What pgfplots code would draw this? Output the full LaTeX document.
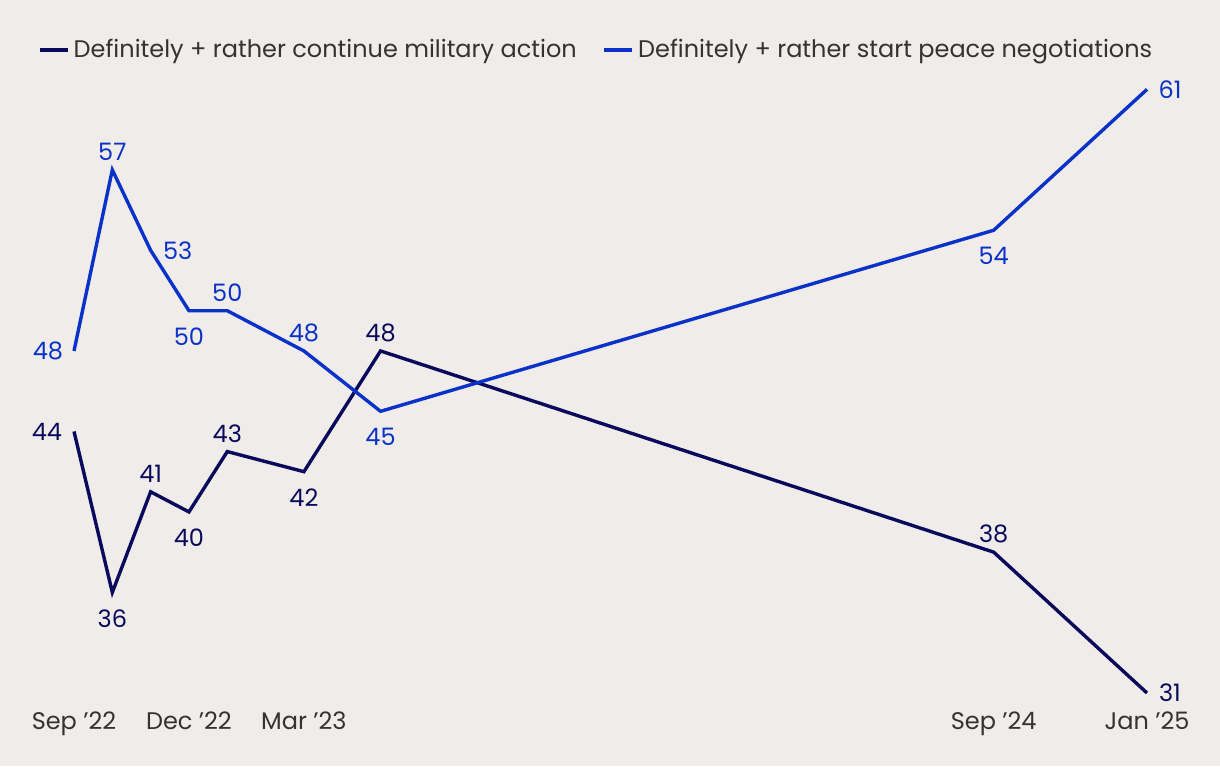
\documentclass[border=0pt]{standalone}
\usepackage{pgfplots}
\pgfplotsset{compat=1.18}
\usepackage{fontspec}
\setmainfont{Poppins}
\definecolor{bg}{HTML}{EFECE9}
\definecolor{navy}{HTML}{0A0A5C}
\definecolor{blu}{HTML}{0B32C8}
\definecolor{txt}{HTML}{333333}
\newcommand{\lf}{\fontsize{12}{14}\selectfont}
\begin{document}
\begin{tikzpicture}
\fill[bg] (0,0) rectangle (610pt,383pt);
\begin{axis}[
  at={(37pt,36.5pt)}, anchor=south west,
  scale only axis, width=536.5pt, height=301.8pt,
  xmin=0, xmax=28, ymin=31, ymax=61,
  axis line style={draw=none}, ytick=\empty,
  xtick={0,3,6,24,28},
  xticklabels={Sep ’22, Dec ’22, Mar ’23, Sep ’24, Jan ’25},
  major tick length=0pt, clip=false,
  xticklabel style={font=\lf, text=txt, anchor=base, yshift=-18pt},
  legend columns=2,
  legend style={draw=none, fill=none, font=\lf, text=txt,
    at={(axis description cs:-0.0336,1.0653)}, anchor=west,
    inner xsep=0pt,
    /tikz/every even column/.append style={column sep=11pt}},
  legend image code/.code={\draw[#1, line width=1.7pt] (0,0) -- (14pt,0);},
]
\addplot[navy, line width=1.7pt] coordinates {(0,44) (1,36) (2,41) (3,40) (4,43) (6,42) (8,48) (24,38) (28,31)};
\addlegendentry{Definitely + rather continue military action}
\addplot[blu, line width=1.7pt] coordinates {(0,48) (1,57) (2,53) (3,50) (4,50) (6,48) (8,45) (24,54) (28,61)};
\addlegendentry{Definitely + rather start peace negotiations}
% continue labels
\begin{scope}[every node/.style={font=\lf, text=navy}]
\node[xshift=-13.5pt] at (axis cs:0,44) {44};
\node[yshift=-13pt] at (axis cs:1,36) {36};
\node[yshift=9pt] at (axis cs:2,41) {41};
\node[yshift=-13pt] at (axis cs:3,40) {40};
\node[yshift=9pt] at (axis cs:4,43) {43};
\node[yshift=-13pt] at (axis cs:6,42) {42};
\node[yshift=9pt] at (axis cs:8,48) {48};
\node[yshift=9pt] at (axis cs:24,38) {38};
\node[xshift=11.5pt] at (axis cs:28,31) {31};
\end{scope}
\begin{scope}[every node/.style={font=\lf, text=blu}]
\node[xshift=-13pt] at (axis cs:0,48) {48};
\node[yshift=9pt] at (axis cs:1,57) {57};
\node[xshift=13.5pt] at (axis cs:2,53) {53};
\node[yshift=-13pt] at (axis cs:3,50) {50};
\node[yshift=9pt] at (axis cs:4,50) {50};
\node[yshift=9pt] at (axis cs:6,48) {48};
\node[yshift=-13pt] at (axis cs:8,45) {45};
\node[yshift=-13pt] at (axis cs:24,54) {54};
\node[xshift=11.5pt] at (axis cs:28,61) {61};
\end{scope}
\end{axis}
\end{tikzpicture}
\end{document}
